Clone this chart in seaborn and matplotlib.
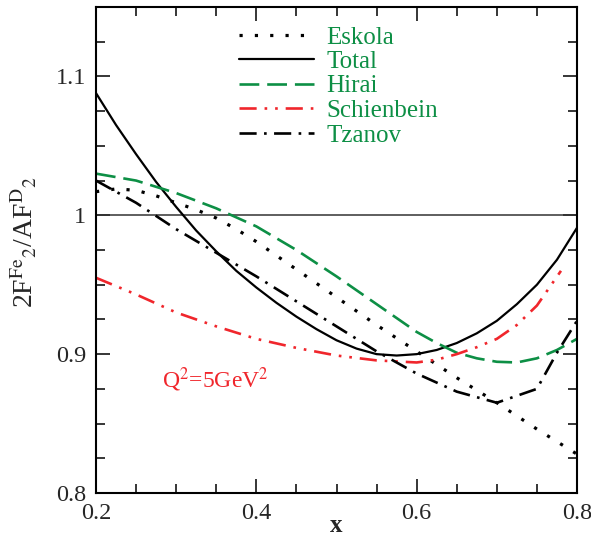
import numpy as np
import pandas as pd
import matplotlib
matplotlib.use("Agg")
import matplotlib.pyplot as plt
import seaborn as sns
from matplotlib.ticker import MultipleLocator

# ---- data ----
x_total = [0.20, 0.225, 0.25, 0.275, 0.30, 0.325, 0.35, 0.375, 0.40, 0.425, 0.45, 0.475,
           0.50, 0.525, 0.55, 0.575, 0.60, 0.625, 0.65, 0.675, 0.70, 0.725, 0.75, 0.775, 0.80]
y_total = [1.088, 1.065, 1.044, 1.024, 1.006, 0.989, 0.974, 0.960, 0.948, 0.937, 0.927, 0.918,
           0.910, 0.904, 0.900, 0.899, 0.900, 0.903, 0.908, 0.915, 0.924, 0.936, 0.950, 0.968, 0.991]

x_eskola = [0.20, 0.225, 0.25, 0.275, 0.30, 0.325, 0.35, 0.375, 0.40, 0.425, 0.45, 0.475,
            0.50, 0.55, 0.60, 0.65, 0.70, 0.75, 0.80]
y_eskola = [1.017, 1.019, 1.018, 1.014, 1.009, 1.004, 0.998, 0.990, 0.981, 0.971, 0.961, 0.951,
            0.941, 0.921, 0.902, 0.883, 0.865, 0.846, 0.828]

x_hirai = [0.20, 0.25, 0.30, 0.35, 0.40, 0.45, 0.50, 0.55, 0.60, 0.625, 0.65, 0.675,
           0.70, 0.725, 0.75, 0.775, 0.80]
y_hirai = [1.030, 1.025, 1.016, 1.005, 0.992, 0.975, 0.956, 0.936, 0.916, 0.908, 0.901, 0.897,
           0.8945, 0.894, 0.897, 0.903, 0.911]

x_schien = [0.20, 0.25, 0.30, 0.35, 0.40, 0.45, 0.50, 0.55, 0.60, 0.625, 0.65, 0.675,
            0.70, 0.725, 0.75, 0.78]
y_schien = [0.955, 0.943, 0.930, 0.920, 0.911, 0.9045, 0.899, 0.8955, 0.894, 0.896, 0.900, 0.905,
            0.911, 0.921, 0.935, 0.960]

x_tzanov = [0.20, 0.25, 0.30, 0.35, 0.40, 0.45, 0.50, 0.55, 0.60, 0.65, 0.70, 0.725,
            0.75, 0.775, 0.80]
y_tzanov = [1.025, 1.009, 0.990, 0.973, 0.956, 0.938, 0.920, 0.902, 0.886, 0.873, 0.865, 0.870,
            0.875, 0.901, 0.924]

labels = ["Eskola", "Total", "Hirai", "Schienbein", "Tzanov"]
annot_text = r"Q$^2$=5GeV$^2$"
ylabel_text = r"2F$^{\mathrm{Fe}}{}_{2}$/AF$^{\mathrm{D}}{}_{2}$"

green = "#0d8f45"
red = "#f0262c"

sns.set_theme(style="ticks")
plt.rcParams["font.family"] = ["Liberation Serif", "DejaVu Serif"]
plt.rcParams["mathtext.fontset"] = "stix"
plt.rcParams["axes.linewidth"] = 1.5

fig = plt.figure(figsize=(5.91, 5.38), dpi=100)
ax = fig.add_axes([96 / 591, 1 - 493 / 538, (577 - 96) / 591, (493 - 7) / 538])

ax.axhline(1.0, color="#333333", lw=1.1, zorder=1)

sns.lineplot(x=x_eskola, y=y_eskola, ax=ax, color="black", lw=2.3,
             linestyle=(0, (1, 3.8)), label=labels[0], sort=False)
sns.lineplot(x=x_total, y=y_total, ax=ax, color="black", lw=1.6,
             linestyle="-", label=labels[1], sort=False)
sns.lineplot(x=x_hirai, y=y_hirai, ax=ax, color=green, lw=1.9,
             linestyle=(0, (7.5, 3.0)), label=labels[2], sort=False)
sns.lineplot(x=x_schien, y=y_schien, ax=ax, color=red, lw=1.9,
             linestyle=(0, (6.5, 3.0, 1, 3.0, 1, 3.0)), label=labels[3], sort=False)
sns.lineplot(x=x_tzanov, y=y_tzanov, ax=ax, color="black", lw=1.9,
             linestyle=(0, (6.5, 2.8, 1, 2.8)), label=labels[4], sort=False)

ax.set_xlim(0.2, 0.8)
ax.set_ylim(0.8, 1.15)
ax.xaxis.set_major_locator(MultipleLocator(0.2))
ax.xaxis.set_minor_locator(MultipleLocator(0.05))
ax.yaxis.set_major_locator(MultipleLocator(0.1))
ax.yaxis.set_minor_locator(MultipleLocator(0.025))

def fmt(v, pos=None):
    return "1" if abs(v - 1.0) < 1e-9 else f"{v:.1f}"

ax.xaxis.set_major_formatter(plt.FuncFormatter(fmt))
ax.yaxis.set_major_formatter(plt.FuncFormatter(fmt))

ax.tick_params(which="both", direction="in", top=True, right=True, color="black", width=1.1)
ax.tick_params(which="major", length=10, labelsize=17.5, pad=7)
ax.tick_params(which="minor", length=6.5)
for sp in ax.spines.values():
    sp.set_visible(True)
    sp.set_color("black")
    sp.set_linewidth(1.5)

ax.set_xlabel("x", fontsize=18, fontweight="bold", labelpad=-7)
ax.set_ylabel(ylabel_text, fontsize=20)
ax.yaxis.set_label_coords(-0.118, 0.516)

ax.text(0.2823, 0.8755, annot_text, color=red, fontsize=17, ha="left", va="baseline")

leg = ax.legend(loc="upper left", bbox_to_anchor=(239 / 591, 1 - 26 / 538),
                bbox_transform=fig.transFigure, frameon=False, fontsize=18,
                handlelength=3.0, handletextpad=0.5, labelspacing=0.08,
                borderpad=0, borderaxespad=0, labelcolor=green)

fig.savefig("out.png", dpi=100)
